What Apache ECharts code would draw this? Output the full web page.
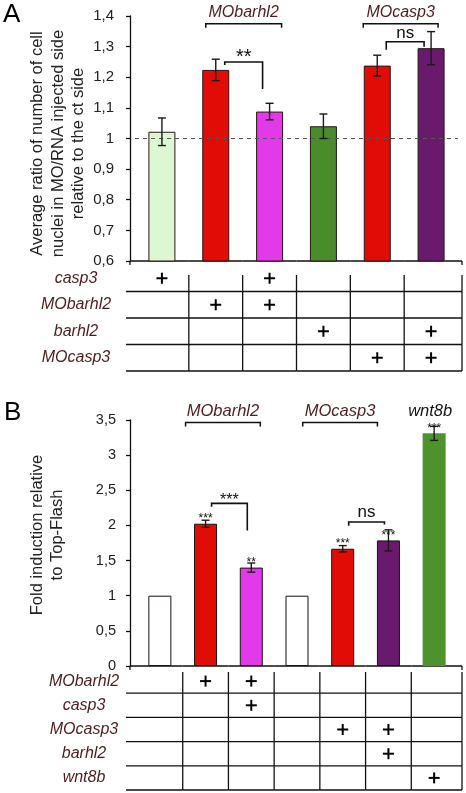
<!DOCTYPE html>
<html><head><meta charset="utf-8">
<script src="https://cdn.jsdelivr.net/npm/echarts@6/dist/echarts.min.js"></script>
<style>html,body{margin:0;padding:0;background:#fff}#c{width:466px;height:793px}</style>
</head><body><div id="c"></div>
<script>
// ---------- Panel A data ----------
const barsA = ['casp3', 'MObarhl2', 'MObarhl2+casp3', 'barhl2', 'MOcasp3', 'MOcasp3+barhl2'];
const valuesA = [1.022, 1.224, 1.088, 1.040, 1.238, 1.295];
const errorsA = [0.045, 0.035, 0.027, 0.040, 0.034, 0.054];
const yTicksA = ['0,6', '0,7', '0,8', '0,9', '1', '1,1', '1,2', '1,3', '1,4'];
const rowsA = ['casp3', 'MObarhl2', 'barhl2', 'MOcasp3'];
const plusA = [[0, 0], [2, 0], [1, 1], [2, 1], [3, 2], [5, 2], [4, 3], [5, 3]];
const groupLabelsA = ['MObarhl2', 'MOcasp3'];
const groupSpansA = [[1, 2], [4, 5]];
const groupLevelA = 1.375;
const sigLabelsA = ['**', 'ns'];
const sigPairsA = [[1, 2], [4, 5]];
const sigLevelsA = [[1.24, 1.25, 1.162], [1.29, 1.316, 1.30]];
const refLineA = 1;

// ---------- Panel B data ----------
const barsB = ['control', 'MObarhl2', 'MObarhl2+casp3', 'control ', 'MOcasp3', 'MOcasp3+barhl2', 'wnt8b'];
const valuesB = [1, 2.024, 1.40, 1, 1.668, 1.787, 3.31];
const errorsB = [0, 0.05, 0.065, 0, 0.045, 0.15, 0.10];
const starsB = ['', '***', '**', '', '***', '***', '***'];
const yTicksB = ['0', '0,5', '1', '1,5', '2', '2,5', '3', '3,5'];
const rowsB = ['MObarhl2', 'casp3', 'MOcasp3', 'barhl2', 'wnt8b'];
const plusB = [[1, 0], [2, 0], [2, 1], [4, 2], [5, 2], [5, 3], [6, 4]];
const groupLabelsB = ['MObarhl2', 'MOcasp3', 'wnt8b'];
const groupSpansB = [[1, 2], [4, 5], [6, 6]];
const groupLevelB = 3.464;
const sigLabelsB = ['***', 'ns'];
const sigPairsB = [[1, 2], [4, 5]];
const sigLevelsB = [[2.267, 2.314, 1.929], [1.996, 2.049, 2.014]];

// ---------- styles ----------
const FONT = '"Liberation Sans", Arial, Helvetica, sans-serif';
const BROWN = '#4f1d1f';
const fillA = ['#dcf7d2', '#e20c06', '#e23ae8', '#4a8b2a', '#e20c06', '#6a1a6c'];
const fillB = ['#ffffff', '#e20c06', '#e23ae8', '#ffffff', '#e20c06', '#6a1a6c', '#4e922e'];
const borderB = [1, 1, 1, 1, 1, 1, 0];
const groupColorB = [BROWN, BROWN, '#111'];
const groupOffA = [[-10, 12], [-14, 7]];
const groupOffB = [[-20, 9], [-40, -11], [-4, -4]];

const chart = echarts.init(document.getElementById('c'), null, {renderer: 'canvas'});

function errRender(vals, errs, stars) {
  return function (params, api) {
    const i = params.dataIndex;
    const v = vals[i], e = errs[i];
    const children = [];
    if (e > 0) {
      const t = api.coord([i, v + e]), b = api.coord([i, v - e]);
      const st = {stroke: '#1a1a1a', lineWidth: 1.4};
      children.push({type: 'line', shape: {x1: t[0], y1: t[1], x2: b[0], y2: b[1]}, style: st});
      children.push({type: 'line', shape: {x1: t[0] - 4, y1: t[1], x2: t[0] + 4, y2: t[1]}, style: st});
      children.push({type: 'line', shape: {x1: b[0] - 4, y1: b[1], x2: b[0] + 4, y2: b[1]}, style: st});
    }
    if (stars && stars[i]) {
      const p = api.coord([i, v]);
      children.push({type: 'text', style: {text: stars[i], x: p[0], y: p[1] - 5, textAlign: 'center', textVerticalAlign: 'middle', font: '12px ' + FONT, fill: '#111'}});
    }
    return {type: 'group', children};
  };
}

function groupRender(labels, level, offs, colors, fontPx) {
  return function (params, api) {
    const i = params.dataIndex;
    const s0 = api.value(0), s1 = api.value(1);
    const a = api.coord([s0, level]), b = api.coord([s1, level]);
    const x1 = a[0] + offs[i][0], x2 = b[0] + offs[i][1], y = a[1];
    const children = [];
    if (s0 !== s1) {
      children.push({type: 'polyline', shape: {points: [[x1, y + 4], [x1, y], [x2, y], [x2, y + 4]]}, style: {stroke: '#111', lineWidth: 1.5, fill: null}});
    }
    children.push({type: 'text', style: {text: labels[i], x: (x1 + x2) / 2, y: y - 3, textAlign: 'center', textVerticalAlign: 'bottom', font: 'italic ' + fontPx + 'px ' + FONT, fill: colors[i]}});
    return {type: 'group', children};
  };
}

function sigRender(labels, levels, offs, fonts, dys) {
  return function (params, api) {
    const i = params.dataIndex;
    const lv = levels[i];
    const a = api.coord([api.value(0), lv[1]]), b = api.coord([api.value(1), lv[1]]);
    const yl = api.coord([api.value(0), lv[0]])[1], yr = api.coord([api.value(1), lv[2]])[1];
    const x1 = a[0] + offs[0], x2 = b[0] + offs[1], y = a[1];
    const isStar = labels[i].indexOf('*') >= 0;
    return {type: 'group', children: [
      {type: 'polyline', shape: {points: [[x1, yl], [x1, y], [x2, y], [x2, yr]]}, style: {stroke: '#111', lineWidth: 1.6, fill: null}},
      {type: 'text', style: {text: labels[i], x: (x1 + x2) / 2, y: y + (isStar ? dys[0] : dys[1]), textAlign: 'center', textVerticalAlign: 'middle', font: (isStar ? fonts[0] : fonts[1]) + 'px ' + FONT, fill: '#111'}}
    ]};
  };
}

function tableRender(nCols, nRows, extL, extR, axisGap, vStart, axisX) {
  return function (params, api) {
    const col = api.value(0), row = api.value(1);
    const c = api.coord([col, row]), s = api.size([1, 1]);
    const left = c[0] - s[0] / 2, right = c[0] + s[0] / 2, top = c[1] - s[1] / 2, bottom = c[1] + s[1] / 2;
    const xl = col === 0 ? left - extL : left;
    const xr = col === nCols - 1 ? right + extR : right;
    const st = {stroke: '#111', lineWidth: 1.3};
    const ch = [];
    ch.push({type: 'line', shape: {x1: xl, y1: bottom, x2: xr, y2: bottom}, style: st});
    ch.push({type: 'line', shape: {x1: xr, y1: row === 0 ? top + vStart : top, x2: xr, y2: bottom}, style: st});
    if (row === 0) {
      const ay = top - axisGap;
      ch.push({type: 'line', shape: {x1: col === 0 ? axisX : xl, y1: ay, x2: xr, y2: ay}, style: st});
      if (col === 0) ch.push({type: 'line', shape: {x1: axisX, y1: ay, x2: axisX, y2: ay + 4}, style: st});
      if (col === nCols - 1) ch.push({type: 'line', shape: {x1: xr, y1: ay, x2: xr, y2: ay + 4}, style: st});
    }
    return {type: 'group', children: ch};
  };
}

function plusRender(params, api) {
  const c = api.coord([api.value(0), api.value(1)]);
  const st = {stroke: '#000', lineWidth: 2};
  return {type: 'group', children: [
    {type: 'line', shape: {x1: c[0] - 5.5, y1: c[1], x2: c[0] + 5.5, y2: c[1]}, style: st},
    {type: 'line', shape: {x1: c[0], y1: c[1] - 5.5, x2: c[0], y2: c[1] + 5.5}, style: st}
  ]};
}

function cells(nc, nr) {
  const out = [];
  for (let r = 0; r < nr; r++) for (let c = 0; c < nc; c++) out.push([c, r]);
  return out;
}

const yLabelStyle = {color: '#222', fontFamily: FONT};

const option = {
  animation: false,
  backgroundColor: '#fff',
  textStyle: {fontFamily: FONT},
  grid: [
    {left: 135, right: 8, top: 16, height: 245},
    {left: 135, right: 8, top: 265, height: 106},
    {left: 137, right: 9, top: 420, height: 246},
    {left: 137, right: 9, top: 669, height: 121}
  ],
  xAxis: [
    {gridIndex: 0, type: 'category', data: barsA, show: false},
    {gridIndex: 1, type: 'category', data: barsA, show: false},
    {gridIndex: 2, type: 'category', data: barsB, show: false},
    {gridIndex: 3, type: 'category', data: barsB, show: false}
  ],
  yAxis: [
    {gridIndex: 0, type: 'value', min: 0.6, max: 1.4, interval: 0.1, offset: 5,
      axisLine: {show: true, lineStyle: {color: '#111', width: 1.3}},
      axisTick: {show: true, length: 4, lineStyle: {color: '#111', width: 1.3}},
      splitLine: {show: false},
      axisLabel: Object.assign({fontSize: 15, margin: 16, formatter: (v, i) => yTicksA[i] ?? ''}, yLabelStyle)},
    {gridIndex: 1, type: 'category', data: rowsA, inverse: true,
      axisLine: {show: false}, axisTick: {show: false}, splitLine: {show: false},
      axisLabel: {align: 'center', margin: 59, fontSize: 16, fontStyle: 'italic', color: BROWN, fontFamily: FONT}},
    {gridIndex: 2, type: 'value', min: 0, max: 3.5, interval: 0.5, offset: 7,
      axisLine: {show: true, lineStyle: {color: '#111', width: 1.3}},
      axisTick: {show: true, length: 4, lineStyle: {color: '#111', width: 1.3}},
      splitLine: {show: false},
      axisLabel: Object.assign({fontSize: 14.5, margin: 14, formatter: (v, i) => yTicksB[i] ?? ''}, yLabelStyle)},
    {gridIndex: 3, type: 'category', data: rowsB, inverse: true,
      axisLine: {show: false}, axisTick: {show: false}, splitLine: {show: false},
      axisLabel: {align: 'center', margin: 53, fontSize: 16, fontStyle: 'italic', color: BROWN, fontFamily: FONT}}
  ],
  series: [
    {type: 'bar', xAxisIndex: 0, yAxisIndex: 0, barWidth: 27,
      data: valuesA.map((v, i) => ({value: v, itemStyle: {color: fillA[i], borderColor: '#2a1515', borderWidth: 1}})),
      markLine: {silent: true, symbol: ['none', 'none'], label: {show: false},
        lineStyle: {type: [4, 4], color: '#555', width: 1.2}, data: [{yAxis: refLineA}]}},
    {type: 'custom', xAxisIndex: 0, yAxisIndex: 0, z: 5, renderItem: errRender(valuesA, errorsA, null),
      data: valuesA.map((v, i) => [i, v])},
    {type: 'custom', xAxisIndex: 0, yAxisIndex: 0, z: 5, renderItem: groupRender(groupLabelsA, groupLevelA, groupOffA, [BROWN, BROWN], 16),
      data: groupSpansA.map(s => [s[0], s[1]])},
    {type: 'custom', xAxisIndex: 0, yAxisIndex: 0, z: 5, renderItem: sigRender(sigLabelsA, sigLevelsA, [9, -7], [20, 17], [-4, -8]),
      data: sigPairsA.map(s => [s[0], s[1]])},
    {type: 'custom', xAxisIndex: 1, yAxisIndex: 1, renderItem: tableRender(barsA.length, rowsA.length, 9, 4, 4, 10, 130),
      data: cells(barsA.length, rowsA.length)},
    {type: 'custom', xAxisIndex: 1, yAxisIndex: 1, renderItem: plusRender, data: plusA},

    {type: 'bar', xAxisIndex: 2, yAxisIndex: 2, barWidth: 23,
      data: valuesB.map((v, i) => ({value: v, itemStyle: {color: fillB[i], borderColor: '#1a1010', borderWidth: borderB[i]}}))},
    {type: 'custom', xAxisIndex: 2, yAxisIndex: 2, z: 5, renderItem: errRender(valuesB, errorsB, starsB),
      data: valuesB.map((v, i) => [i, v])},
    {type: 'custom', xAxisIndex: 2, yAxisIndex: 2, z: 5, renderItem: groupRender(groupLabelsB, groupLevelB, groupOffB, groupColorB, 16.5),
      data: groupSpansB.map(s => [s[0], s[1]])},
    {type: 'custom', xAxisIndex: 2, yAxisIndex: 2, z: 5, renderItem: sigRender(sigLabelsB, sigLevelsB, [6, -4], [16, 17], [-3, -10]),
      data: sigPairsB.map(s => [s[0], s[1]])},
    {type: 'custom', xAxisIndex: 3, yAxisIndex: 3, renderItem: tableRender(barsB.length, rowsB.length, 11, 5, 3, 3, 130),
      data: cells(barsB.length, rowsB.length)},
    {type: 'custom', xAxisIndex: 3, yAxisIndex: 3, renderItem: plusRender, data: plusB}
  ],
  graphic: [
    {type: 'text', left: 3, top: 2, style: {text: 'A', font: '26px ' + FONT, fill: '#000'}},
    {type: 'text', left: 4, top: 400, style: {text: 'B', font: '26px ' + FONT, fill: '#000'}},
    {type: 'text', x: 58, y: 143.5, rotation: Math.PI / 2,
      style: {text: 'Average ratio of number of cell\nnuclei in MO/RNA injected side\nrelative to the ct side',
        font: '16.5px ' + FONT, lineHeight: 20.5, textAlign: 'center', textVerticalAlign: 'middle', fill: '#222'}},
    {type: 'text', x: 47.5, y: 535, rotation: Math.PI / 2,
      style: {text: 'Fold induction relative\nto Top-Flash',
        font: '16.5px ' + FONT, lineHeight: 20.5, textAlign: 'center', textVerticalAlign: 'middle', fill: '#222'}}
  ]
};
chart.setOption(option);
</script>
</body></html>
